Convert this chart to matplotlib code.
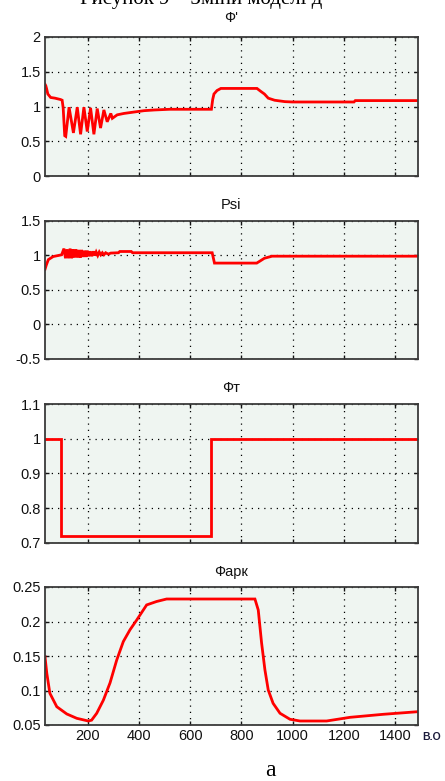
import numpy as np
import matplotlib.pyplot as plt

# --- data ---
x_phi = [33, 36, 39, 44, 55, 72, 94, 100, 104, 110, 114, 127, 144, 159, 172, 185, 198,
         211, 224, 237, 250, 263, 276, 290, 296, 315, 341, 380, 420, 460, 520, 683,
         688, 693, 705, 720, 861, 875, 890, 905, 930, 970, 1000, 1240, 1245, 1490]
y_phi = [1.32, 1.30, 1.26, 1.18, 1.13, 1.12, 1.10, 1.09, 0.98, 0.58, 0.57, 0.99, 0.62,
         0.99, 0.60, 0.99, 0.64, 0.98, 0.60, 0.97, 0.69, 0.95, 0.78, 0.90, 0.83, 0.88,
         0.90, 0.92, 0.94, 0.95, 0.96, 0.96, 1.10, 1.18, 1.23, 1.26, 1.26, 1.22, 1.18,
         1.12, 1.09, 1.07, 1.065, 1.065, 1.085, 1.085]

x_psi = [33, 38, 46, 65, 98, 107, 113, 119, 125, 131, 137, 142, 148, 154, 160, 166, 171,
         176, 182, 188, 193, 198, 204, 210, 216, 222, 228, 233, 239, 245, 251, 257, 263,
         270, 280, 290, 320, 325, 370, 375, 686, 695, 860, 873, 890, 905, 920, 1490]
y_psi = [0.80, 0.86, 0.94, 0.985, 1.01, 1.10, 0.96, 1.09, 0.96, 1.10, 0.96, 1.09, 0.97,
         1.09, 0.97, 1.08, 0.97, 1.08, 0.98, 1.07, 0.98, 1.07, 0.99, 1.06, 0.99, 1.06,
         1.00, 1.05, 1.00, 1.05, 1.01, 1.04, 1.01, 1.04, 1.02, 1.035, 1.04, 1.058, 1.058,
         1.04, 1.04, 0.89, 0.89, 0.92, 0.96, 0.975, 0.99, 0.99]

x_ft = [33, 95, 95, 680, 680, 1490]
y_ft = [1.0, 1.0, 0.72, 0.72, 1.0, 1.0]

x_fark = [33, 40, 52, 79, 118, 157, 202, 215, 235, 261, 287, 313, 339, 365, 391, 430,
          469, 508, 853, 866, 879, 892, 905, 924, 951, 990, 1029, 1133, 1224, 1354, 1490]
y_fark = [0.149, 0.125, 0.096, 0.0765, 0.066, 0.0597, 0.0558, 0.057, 0.067, 0.086, 0.111,
          0.144, 0.171, 0.188, 0.202, 0.224, 0.229, 0.2326, 0.2326, 0.2167, 0.169, 0.13,
          0.1007, 0.0814, 0.067, 0.0583, 0.0558, 0.0558, 0.0611, 0.0655, 0.0693]

titles = ["Ф'", "Psi", "Фт", "Фарк"]
yticks = [[0, 0.5, 1, 1.5, 2],
          [-0.5, 0, 0.5, 1, 1.5],
          [0.7, 0.8, 0.9, 1, 1.1],
          [0.05, 0.1, 0.15, 0.2, 0.25]]
ytick_labels = [["0", "0.5", "1", "1.5", "2"],
                ["-0.5", "0", "0.5", "1", "1.5"],
                ["0.7", "0.8", "0.9", "1", "1.1"],
                ["0.05", "0.1", "0.15", "0.2", "0.25"]]
xticks = [200, 400, 600, 800, 1000, 1200, 1400]
series = [(x_phi, y_phi), (x_psi, y_psi), (x_ft, y_ft), (x_fark, y_fark)]

W, H = 445, 781
# axes boxes in pixels: (top, bottom)
boxes = [(37, 176), (221, 359), (404, 543), (587, 725)]
title_gap = [19, 16, 16, 15]
left_px, right_px = 45, 418

plt.rcParams['font.family'] = ['Liberation Sans', 'DejaVu Sans']
fig = plt.figure(figsize=(W / 100, H / 100), dpi=100)

for i, ((top, bot), (xs, ys)) in enumerate(zip(boxes, series)):
    h = bot - top
    ax = fig.add_axes([left_px / W, 1 - bot / H, (right_px - left_px) / W, h / H])
    ax.set_facecolor('#eff5f1')
    ax.plot(xs, ys, color='#ff0000', lw=2.0, solid_joinstyle='miter')
    ax.set_xlim(33, 1490)
    ax.set_ylim(yticks[i][0], yticks[i][-1])
    ax.set_xticks(xticks)
    ax.set_yticks(yticks[i])
    ax.set_yticklabels(ytick_labels[i])
    if i == 3:
        ax.set_xticklabels([str(t) for t in xticks])
    else:
        ax.set_xticklabels([])
    ax.grid(True, color='black', linestyle=(0, (1, 4)), linewidth=0.9)
    ax.tick_params(direction='in', length=3, width=1, top=True, right=True,
                   labelsize=10.5, colors='#111111', pad=3)
    for sp in ax.spines.values():
        sp.set_color('#3a3a3a')
        sp.set_linewidth(1.3)
    ax.text(0.5, 1 + title_gap[i] / h, titles[i], transform=ax.transAxes,
            ha='center', va='center', fontsize=10.5, color='#111111')

fig.text(432 / W, 1 - 737 / H, "В.О", ha='center', va='center', fontsize=7.5,
         fontweight='bold', color='#1c1c3c')
fig.text(270 / W, 1 - 770 / H, "а", ha='center', va='center', fontsize=17,
         family='Liberation Serif')
# caption line is cut by the top edge in the reference too
fig.text(80 / W, 1 + 1 / H, "Рисунок 9 – Зміни моделі д", ha='left', va='center',
         fontsize=15, family='Liberation Serif')

fig.savefig('out.png', dpi=100)
